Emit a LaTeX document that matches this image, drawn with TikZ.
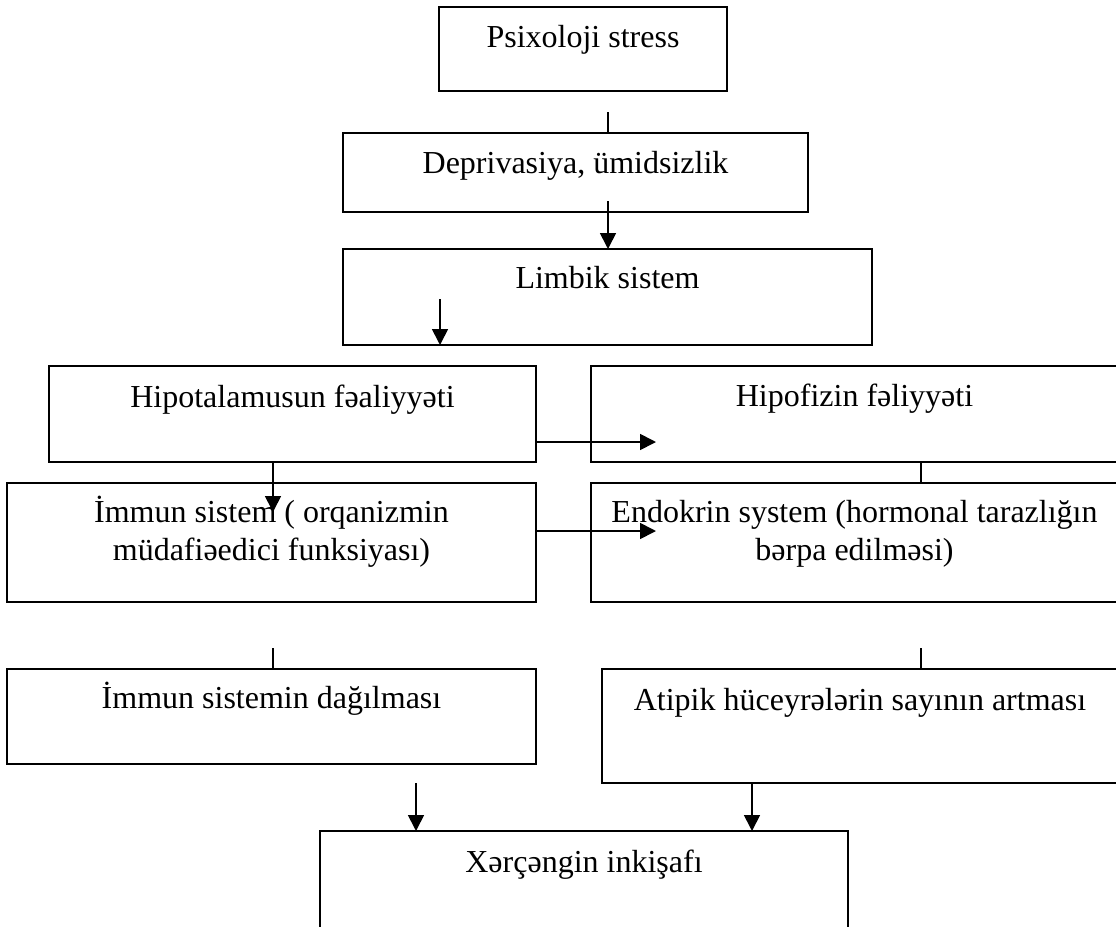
\documentclass[tikz,border=0pt]{standalone}
\usepackage{fontspec}
\setmainfont{Liberation Serif}
\usetikzlibrary{arrows.meta,calc}
\begin{document}
\begin{tikzpicture}[x=1pt,y=-1pt,
  box/.style={draw, line width=1.8pt, rectangle, inner sep=0pt, outer sep=0pt},
  txt/.style={font=\fontsize{32pt}{38pt}\selectfont, inner sep=0pt, anchor=base, align=center},
  link/.style={line width=1.7pt},
  arr/.style={line width=1.7pt, -{Triangle[length=16pt,width=16pt]}}]
\useasboundingbox (0,0) rectangle (1116,926);
\clip (0,0) rectangle (1116,926);
% boxes
\node[box, minimum width=288pt, minimum height=84pt]  (P)  at (583,49) {};
\node[box, minimum width=465pt, minimum height=79pt]  (D)  at (575.5,172.5) {};
\node[box, minimum width=529pt, minimum height=96pt]  (L)  at (607.5,297) {};
\node[box, minimum width=487pt, minimum height=96pt]  (H)  at (292.5,414) {};
\node[box, minimum width=527pt, minimum height=96pt]  (F)  at (854.5,414) {};
\node[box, minimum width=529pt, minimum height=119pt] (I)  at (271.5,542.5) {};
\node[box, minimum width=527pt, minimum height=119pt] (E)  at (854.5,542.5) {};
\node[box, minimum width=529pt, minimum height=95pt]  (Dg) at (271.5,716.5) {};
\node[box, minimum width=516pt, minimum height=114pt] (A)  at (860,726) {};
\node[box, minimum width=528pt, minimum height=138pt] (X)  at (584,900) {};
% texts
\node[txt] (tP)  at (583,47) {Psixoloji stress};
\node[txt] (tD)  at (575.5,173) {Deprivasiya, ümidsizlik};
\node[txt] (tL)  at (607.5,288) {Limbik sistem};
\node[txt] (tH)  at (292.5,407) {Hipotalamusun fəaliyyəti};
\node[txt] (tF)  at (854.5,406) {Hipofizin fəliyyəti};
\node[txt] (tI)  at (271.5,560) {İmmun sistem ( orqanizmin\\müdafiəedici funksiyası)};
\node[txt] (tE)  at (854.5,560) {Endokrin system (hormonal tarazlığın\\bərpa edilməsi)};
\node[txt] (tDg) at (271.5,708) {İmmun sistemin dağılması};
\node[txt] (tA)  at (860,710) {Atipik hüceyrələrin sayının artması};
\node[txt] (tX)  at (584,872) {Xərçəngin inkişafı};
% connectors
\coordinate (c1s) at (608,112);
\draw[link] (c1s) -- (c1s |- D.north);
\coordinate (a1s) at (608,201);
\draw[arr] (a1s) -- (a1s |- L.north);
\coordinate (a2s) at (440,299);
\draw[arr] (a2s) -- (a2s |- L.south);
\coordinate (a3e) at (273,512);
\draw[arr] (a3e |- H.south) -- (a3e);
\coordinate (a4e) at (656,442);
\draw[arr] (a4e -| H.east) -- (a4e);
\coordinate (c2x) at (921,0);
\draw[link] (c2x |- F.south) -- (c2x |- E.north);
\coordinate (a5e) at (656,531);
\draw[arr] (a5e -| I.east) -- (a5e);
\coordinate (c3s) at (273,648);
\draw[link] (c3s) -- (c3s |- Dg.north);
\coordinate (c4s) at (921,648);
\draw[link] (c4s) -- (c4s |- A.north);
\coordinate (a6s) at (416,783);
\draw[arr] (a6s) -- (a6s |- X.north);
\coordinate (a7x) at (752,0);
\draw[arr] (a7x |- A.south) -- (a7x |- X.north);
\end{tikzpicture}
\end{document}
